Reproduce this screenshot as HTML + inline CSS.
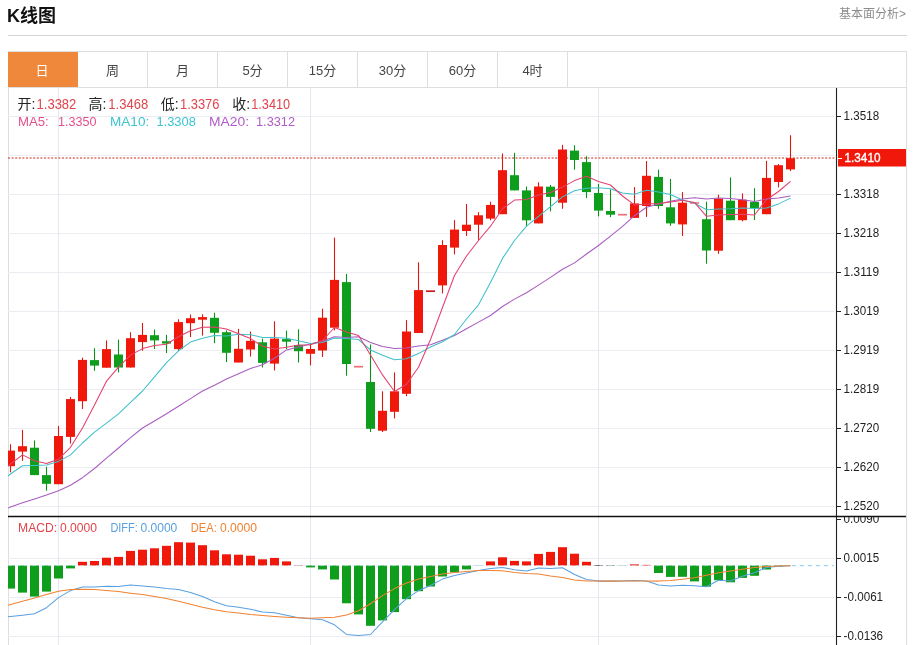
<!DOCTYPE html>
<html lang="zh-CN"><head><meta charset="utf-8"><title>K线图</title>
<style>
html,body{margin:0;padding:0;background:#fff;}
body{width:913px;height:645px;overflow:hidden;position:relative;font-family:"Liberation Sans","Noto Sans CJK SC",sans-serif;color:#222;}
.title{position:absolute;left:7px;top:3px;font-size:18px;font-weight:bold;line-height:26px;color:#111;white-space:nowrap;}
.more{position:absolute;right:7px;top:6px;font-size:12px;line-height:16px;color:#8c8c8c;white-space:nowrap;}
.hr{position:absolute;left:8px;top:35px;width:899px;height:1px;background:#d4d4d4;}
.tabs{position:absolute;left:8px;top:51px;width:897px;height:35px;border:1px solid #dedede;background:#fff;}
.tab{position:absolute;top:0;height:35px;width:69px;border-right:1px solid #dedede;text-align:center;font-size:13px;line-height:37px;color:#444;}
.tab.on{background:#f0883c;color:#fff;left:-1px;top:0;width:70px;border-right:none;}
.frame{position:absolute;left:8px;top:87px;width:897px;height:560px;border-left:1px solid #dedede;border-right:1px solid #dedede;}
svg{position:absolute;left:0;top:0;}
svg text{font-family:"Liberation Sans","Noto Sans CJK SC",sans-serif;}
</style></head><body>
<div class="title">K线图</div>
<div class="more">基本面分析&gt;</div>
<div class="hr"></div>
<div class="frame"></div>
<div class="tabs">
<div class="tab on"><span style="position:relative;left:-1px">日</span></div>
<div class="tab" style="left:69px">周</div>
<div class="tab" style="left:139px">月</div>
<div class="tab" style="left:209px">5分</div>
<div class="tab" style="left:279px">15分</div>
<div class="tab" style="left:349px">30分</div>
<div class="tab" style="left:419px">60分</div>
<div class="tab" style="left:489px">4时</div>
</div>
<svg width="913" height="645" viewBox="0 0 913 645">
<defs><clipPath id="cp"><rect x="8" y="88" width="828" height="557"/></clipPath>
<clipPath id="cm"><rect x="836" y="517" width="70" height="128"/></clipPath></defs>
<g clip-path="url(#cp)">
<line x1="8" x2="834" y1="116.5" y2="116.5" stroke="#ecedf3" stroke-width="1"/>
<line x1="8" x2="834" y1="155.5" y2="155.5" stroke="#ecedf3" stroke-width="1"/>
<line x1="8" x2="834" y1="194.5" y2="194.5" stroke="#ecedf3" stroke-width="1"/>
<line x1="8" x2="834" y1="233.5" y2="233.5" stroke="#ecedf3" stroke-width="1"/>
<line x1="8" x2="834" y1="272.5" y2="272.5" stroke="#ecedf3" stroke-width="1"/>
<line x1="8" x2="834" y1="311.5" y2="311.5" stroke="#ecedf3" stroke-width="1"/>
<line x1="8" x2="834" y1="350.5" y2="350.5" stroke="#ecedf3" stroke-width="1"/>
<line x1="8" x2="834" y1="389.5" y2="389.5" stroke="#ecedf3" stroke-width="1"/>
<line x1="8" x2="834" y1="428.5" y2="428.5" stroke="#ecedf3" stroke-width="1"/>
<line x1="8" x2="834" y1="467.5" y2="467.5" stroke="#ecedf3" stroke-width="1"/>
<line x1="8" x2="834" y1="506.5" y2="506.5" stroke="#ecedf3" stroke-width="1"/>
<line x1="8" x2="834" y1="558.5" y2="558.5" stroke="#ecedf3" stroke-width="1"/>
<line x1="8" x2="834" y1="597.5" y2="597.5" stroke="#ecedf3" stroke-width="1"/>
<line x1="8" x2="834" y1="636.5" y2="636.5" stroke="#ecedf3" stroke-width="1"/>
<line x1="58.5" x2="58.5" y1="88" y2="645" stroke="#e3e7f0" stroke-width="1"/>
<line x1="310.5" x2="310.5" y1="88" y2="645" stroke="#e3e7f0" stroke-width="1"/>
<line x1="598.5" x2="598.5" y1="88" y2="645" stroke="#e3e7f0" stroke-width="1"/>
<line x1="8" x2="835" y1="158" y2="158" stroke="#de6e64" stroke-width="1.6" stroke-dasharray="2 1.6"/>
<line x1="10.5" x2="10.5" y1="444.3" y2="472.3" stroke="#dc1810" stroke-width="1.1"/>
<rect x="6.0" y="450.6" width="9.0" height="15.6" fill="#f0180a"/>
<line x1="22.5" x2="22.5" y1="429.9" y2="460.8" stroke="#dc1810" stroke-width="1.1"/>
<rect x="18.0" y="446.2" width="9.0" height="5.4" fill="#f0180a"/>
<line x1="34.5" x2="34.5" y1="440.4" y2="475.1" stroke="#0c9018" stroke-width="1.1"/>
<rect x="30.0" y="447.7" width="9.0" height="27.4" fill="#0e9e1c"/>
<line x1="46.5" x2="46.5" y1="466.8" y2="490.7" stroke="#0c9018" stroke-width="1.1"/>
<rect x="42.0" y="475.1" width="9.0" height="8.7" fill="#0e9e1c"/>
<line x1="58.5" x2="58.5" y1="426.0" y2="484.2" stroke="#dc1810" stroke-width="1.1"/>
<rect x="54.0" y="436.0" width="9.0" height="48.2" fill="#f0180a"/>
<line x1="70.5" x2="70.5" y1="396.9" y2="443.6" stroke="#dc1810" stroke-width="1.1"/>
<rect x="66.0" y="399.1" width="9.0" height="37.8" fill="#f0180a"/>
<line x1="82.5" x2="82.5" y1="357.7" y2="409.0" stroke="#dc1810" stroke-width="1.1"/>
<rect x="78.0" y="359.9" width="9.0" height="41.3" fill="#f0180a"/>
<line x1="94.5" x2="94.5" y1="348.2" y2="370.8" stroke="#0c9018" stroke-width="1.1"/>
<rect x="90.0" y="360.1" width="9.0" height="5.5" fill="#0e9e1c"/>
<line x1="106.5" x2="106.5" y1="340.4" y2="367.7" stroke="#dc1810" stroke-width="1.1"/>
<rect x="102.0" y="349.1" width="9.0" height="18.6" fill="#f0180a"/>
<line x1="118.5" x2="118.5" y1="339.5" y2="372.5" stroke="#0c9018" stroke-width="1.1"/>
<rect x="114.0" y="354.5" width="9.0" height="13.0" fill="#0e9e1c"/>
<line x1="130.5" x2="130.5" y1="332.3" y2="367.5" stroke="#dc1810" stroke-width="1.1"/>
<rect x="126.0" y="338.2" width="9.0" height="29.3" fill="#f0180a"/>
<line x1="142.5" x2="142.5" y1="323.0" y2="350.8" stroke="#dc1810" stroke-width="1.1"/>
<rect x="138.0" y="334.9" width="9.0" height="7.2" fill="#f0180a"/>
<line x1="154.5" x2="154.5" y1="329.5" y2="349.1" stroke="#0c9018" stroke-width="1.1"/>
<rect x="150.0" y="335.2" width="9.0" height="5.2" fill="#0e9e1c"/>
<line x1="166.5" x2="166.5" y1="334.9" y2="353.0" stroke="#0c9018" stroke-width="1.1"/>
<rect x="162.0" y="341.2" width="9.0" height="2.4" fill="#0e9e1c"/>
<line x1="178.5" x2="178.5" y1="319.3" y2="351.2" stroke="#dc1810" stroke-width="1.1"/>
<rect x="174.0" y="322.1" width="9.0" height="27.0" fill="#f0180a"/>
<line x1="190.5" x2="190.5" y1="314.5" y2="337.1" stroke="#dc1810" stroke-width="1.1"/>
<rect x="186.0" y="318.2" width="9.0" height="5.0" fill="#f0180a"/>
<line x1="202.5" x2="202.5" y1="314.3" y2="335.6" stroke="#dc1810" stroke-width="1.1"/>
<rect x="198.0" y="317.1" width="9.0" height="2.6" fill="#f0180a"/>
<line x1="214.5" x2="214.5" y1="312.8" y2="343.2" stroke="#0c9018" stroke-width="1.1"/>
<rect x="210.0" y="317.8" width="9.0" height="15.0" fill="#0e9e1c"/>
<line x1="226.5" x2="226.5" y1="330.3" y2="362.1" stroke="#0c9018" stroke-width="1.1"/>
<rect x="222.0" y="332.2" width="9.0" height="20.6" fill="#0e9e1c"/>
<line x1="238.5" x2="238.5" y1="328.9" y2="362.5" stroke="#dc1810" stroke-width="1.1"/>
<rect x="234.0" y="348.8" width="9.0" height="13.7" fill="#f0180a"/>
<line x1="250.5" x2="250.5" y1="331.5" y2="356.6" stroke="#dc1810" stroke-width="1.1"/>
<rect x="246.0" y="340.8" width="9.0" height="8.7" fill="#f0180a"/>
<line x1="262.5" x2="262.5" y1="338.6" y2="367.5" stroke="#0c9018" stroke-width="1.1"/>
<rect x="258.0" y="342.3" width="9.0" height="20.6" fill="#0e9e1c"/>
<line x1="274.5" x2="274.5" y1="321.3" y2="370.5" stroke="#dc1810" stroke-width="1.1"/>
<rect x="270.0" y="338.6" width="9.0" height="25.0" fill="#f0180a"/>
<line x1="286.5" x2="286.5" y1="330.6" y2="349.0" stroke="#0c9018" stroke-width="1.1"/>
<rect x="282.0" y="339.1" width="9.0" height="2.6" fill="#0e9e1c"/>
<line x1="298.5" x2="298.5" y1="329.3" y2="362.5" stroke="#0c9018" stroke-width="1.1"/>
<rect x="294.0" y="345.1" width="9.0" height="6.1" fill="#0e9e1c"/>
<line x1="310.5" x2="310.5" y1="343.0" y2="365.3" stroke="#dc1810" stroke-width="1.1"/>
<rect x="306.0" y="349.0" width="9.0" height="4.8" fill="#f0180a"/>
<line x1="322.5" x2="322.5" y1="308.7" y2="357.0" stroke="#dc1810" stroke-width="1.1"/>
<rect x="318.0" y="317.7" width="9.0" height="32.8" fill="#f0180a"/>
<line x1="334.5" x2="334.5" y1="237.6" y2="330.3" stroke="#dc1810" stroke-width="1.1"/>
<rect x="330.0" y="279.9" width="9.0" height="47.8" fill="#f0180a"/>
<line x1="346.5" x2="346.5" y1="273.9" y2="375.7" stroke="#0c9018" stroke-width="1.1"/>
<rect x="342.0" y="282.1" width="9.0" height="81.9" fill="#0e9e1c"/>
<line x1="354.0" x2="363.0" y1="366.7" y2="366.7" stroke="#f07070" stroke-width="1.7"/>
<line x1="370.5" x2="370.5" y1="344.5" y2="432.0" stroke="#0c9018" stroke-width="1.1"/>
<rect x="366.0" y="382.0" width="9.0" height="46.8" fill="#0e9e1c"/>
<line x1="382.5" x2="382.5" y1="391.3" y2="432.0" stroke="#dc1810" stroke-width="1.1"/>
<rect x="378.0" y="410.8" width="9.0" height="19.9" fill="#f0180a"/>
<line x1="394.5" x2="394.5" y1="372.4" y2="418.4" stroke="#dc1810" stroke-width="1.1"/>
<rect x="390.0" y="391.3" width="9.0" height="20.5" fill="#f0180a"/>
<line x1="406.5" x2="406.5" y1="320.1" y2="396.2" stroke="#dc1810" stroke-width="1.1"/>
<rect x="402.0" y="331.5" width="9.0" height="62.3" fill="#f0180a"/>
<line x1="418.5" x2="418.5" y1="262.3" y2="333.0" stroke="#dc1810" stroke-width="1.1"/>
<rect x="414.0" y="290.1" width="9.0" height="42.9" fill="#f0180a"/>
<line x1="426.0" x2="435.0" y1="291.2" y2="291.2" stroke="#c81818" stroke-width="1.7"/>
<line x1="442.5" x2="442.5" y1="240.2" y2="293.4" stroke="#dc1810" stroke-width="1.1"/>
<rect x="438.0" y="245.0" width="9.0" height="40.4" fill="#f0180a"/>
<line x1="454.5" x2="454.5" y1="220.1" y2="254.4" stroke="#dc1810" stroke-width="1.1"/>
<rect x="450.0" y="229.6" width="9.0" height="18.0" fill="#f0180a"/>
<line x1="466.5" x2="466.5" y1="204.0" y2="236.0" stroke="#dc1810" stroke-width="1.1"/>
<rect x="462.0" y="224.7" width="9.0" height="6.3" fill="#f0180a"/>
<line x1="478.5" x2="478.5" y1="212.1" y2="239.9" stroke="#dc1810" stroke-width="1.1"/>
<rect x="474.0" y="215.3" width="9.0" height="9.4" fill="#f0180a"/>
<line x1="490.5" x2="490.5" y1="201.7" y2="220.3" stroke="#dc1810" stroke-width="1.1"/>
<rect x="486.0" y="204.9" width="9.0" height="13.7" fill="#f0180a"/>
<line x1="502.5" x2="502.5" y1="153.5" y2="214.2" stroke="#dc1810" stroke-width="1.1"/>
<rect x="498.0" y="170.2" width="9.0" height="44.0" fill="#f0180a"/>
<line x1="514.5" x2="514.5" y1="152.8" y2="190.4" stroke="#0c9018" stroke-width="1.1"/>
<rect x="510.0" y="175.2" width="9.0" height="15.2" fill="#0e9e1c"/>
<line x1="526.5" x2="526.5" y1="186.5" y2="226.6" stroke="#0c9018" stroke-width="1.1"/>
<rect x="522.0" y="190.4" width="9.0" height="29.9" fill="#0e9e1c"/>
<line x1="538.5" x2="538.5" y1="182.3" y2="223.4" stroke="#dc1810" stroke-width="1.1"/>
<rect x="534.0" y="186.5" width="9.0" height="36.9" fill="#f0180a"/>
<line x1="550.5" x2="550.5" y1="184.9" y2="211.4" stroke="#0c9018" stroke-width="1.1"/>
<rect x="546.0" y="186.7" width="9.0" height="10.2" fill="#0e9e1c"/>
<line x1="562.5" x2="562.5" y1="144.8" y2="208.8" stroke="#dc1810" stroke-width="1.1"/>
<rect x="558.0" y="149.5" width="9.0" height="53.2" fill="#f0180a"/>
<line x1="574.5" x2="574.5" y1="145.2" y2="169.7" stroke="#0c9018" stroke-width="1.1"/>
<rect x="570.0" y="150.6" width="9.0" height="9.4" fill="#0e9e1c"/>
<line x1="586.5" x2="586.5" y1="156.3" y2="198.0" stroke="#0c9018" stroke-width="1.1"/>
<rect x="582.0" y="162.1" width="9.0" height="30.0" fill="#0e9e1c"/>
<line x1="598.5" x2="598.5" y1="183.8" y2="216.4" stroke="#0c9018" stroke-width="1.1"/>
<rect x="594.0" y="193.0" width="9.0" height="17.6" fill="#0e9e1c"/>
<line x1="610.5" x2="610.5" y1="189.3" y2="217.1" stroke="#0c9018" stroke-width="1.1"/>
<rect x="606.0" y="211.0" width="9.0" height="3.7" fill="#0e9e1c"/>
<line x1="618.0" x2="627.0" y1="214.7" y2="214.7" stroke="#f07080" stroke-width="1.7"/>
<line x1="634.5" x2="634.5" y1="187.1" y2="217.9" stroke="#dc1810" stroke-width="1.1"/>
<rect x="630.0" y="203.4" width="9.0" height="14.5" fill="#f0180a"/>
<line x1="646.5" x2="646.5" y1="161.1" y2="216.9" stroke="#dc1810" stroke-width="1.1"/>
<rect x="642.0" y="175.8" width="9.0" height="30.2" fill="#f0180a"/>
<line x1="658.5" x2="658.5" y1="169.7" y2="208.8" stroke="#0c9018" stroke-width="1.1"/>
<rect x="654.0" y="176.9" width="9.0" height="29.1" fill="#0e9e1c"/>
<line x1="670.5" x2="670.5" y1="178.9" y2="225.8" stroke="#0c9018" stroke-width="1.1"/>
<rect x="666.0" y="207.3" width="9.0" height="16.1" fill="#0e9e1c"/>
<line x1="682.5" x2="682.5" y1="192.1" y2="236.0" stroke="#dc1810" stroke-width="1.1"/>
<rect x="678.0" y="202.7" width="9.0" height="21.7" fill="#f0180a"/>
<line x1="690.0" x2="699.0" y1="203" y2="203" stroke="#f07080" stroke-width="1.7"/>
<line x1="706.5" x2="706.5" y1="201.7" y2="263.7" stroke="#0c9018" stroke-width="1.1"/>
<rect x="702.0" y="219.2" width="9.0" height="31.3" fill="#0e9e1c"/>
<line x1="718.5" x2="718.5" y1="194.7" y2="253.8" stroke="#dc1810" stroke-width="1.1"/>
<rect x="714.0" y="198.6" width="9.0" height="52.1" fill="#f0180a"/>
<line x1="730.5" x2="730.5" y1="177.4" y2="220.2" stroke="#0c9018" stroke-width="1.1"/>
<rect x="726.0" y="200.7" width="9.0" height="19.5" fill="#0e9e1c"/>
<line x1="742.5" x2="742.5" y1="193.4" y2="221.3" stroke="#dc1810" stroke-width="1.1"/>
<rect x="738.0" y="199.7" width="9.0" height="20.5" fill="#f0180a"/>
<line x1="754.5" x2="754.5" y1="188.2" y2="220.0" stroke="#0c9018" stroke-width="1.1"/>
<rect x="750.0" y="201.9" width="9.0" height="6.1" fill="#0e9e1c"/>
<line x1="766.5" x2="766.5" y1="160.8" y2="214.2" stroke="#dc1810" stroke-width="1.1"/>
<rect x="762.0" y="177.9" width="9.0" height="36.3" fill="#f0180a"/>
<line x1="778.5" x2="778.5" y1="164.1" y2="187.4" stroke="#dc1810" stroke-width="1.1"/>
<rect x="774.0" y="165.2" width="9.0" height="16.8" fill="#f0180a"/>
<line x1="790.5" x2="790.5" y1="135.2" y2="171.0" stroke="#dc1810" stroke-width="1.1"/>
<rect x="786.0" y="158.2" width="9.0" height="11.2" fill="#f0180a"/>
<polyline fill="none" stroke="#a85cc0" stroke-width="1.05" stroke-linejoin="round" points="8.0,508.1 10.5,507.1 22.5,502.7 34.5,498.9 46.5,495.1 58.5,490.7 70.5,485.3 82.5,477.7 94.5,468.5 106.5,458.2 118.5,448.0 130.5,437.7 142.5,428.0 154.5,421.0 166.5,413.8 178.5,406.2 190.5,398.6 202.5,391.0 214.5,385.2 226.5,379.0 238.5,373.8 250.5,368.6 262.5,364.7 274.5,358.2 286.5,349.9 298.5,346.9 310.5,344.0 322.5,341.0 334.5,336.8 346.5,337.5 358.5,336.7 370.5,342.5 382.5,346.5 394.5,348.5 406.5,348.1 418.5,346.1 430.5,344.7 442.5,340.2 454.5,335.5 466.5,328.8 478.5,322.1 490.5,315.5 502.5,306.5 514.5,299.1 526.5,292.8 538.5,285.1 550.5,277.4 562.5,269.2 574.5,262.9 586.5,254.0 598.5,245.5 610.5,236.1 622.5,226.3 634.5,215.7 646.5,207.2 658.5,203.9 670.5,201.2 682.5,199.0 694.5,197.7 706.5,198.9 718.5,198.1 730.5,198.6 742.5,199.7 754.5,201.4 766.5,198.9 778.5,198.1 790.5,196.1"/>
<polyline fill="none" stroke="#40c0cc" stroke-width="1.05" stroke-linejoin="round" points="8.0,476.0 10.5,474.0 22.5,465.8 34.5,465.5 46.5,465.1 58.5,461.4 70.5,454.9 82.5,443.0 94.5,432.1 106.5,423.2 118.5,413.8 130.5,402.4 142.5,391.0 154.5,376.8 166.5,362.7 178.5,350.8 190.5,342.1 202.5,338.2 214.5,335.6 226.5,336.1 238.5,334.3 250.5,334.7 262.5,337.5 274.5,337.5 286.5,338.2 298.5,340.8 310.5,343.4 322.5,342.6 334.5,338.0 346.5,338.5 358.5,339.5 370.5,350.0 382.5,355.2 394.5,359.7 406.5,358.7 418.5,353.6 430.5,347.0 442.5,341.8 454.5,334.5 466.5,319.0 478.5,304.8 490.5,282.6 502.5,258.4 514.5,240.5 526.5,226.2 538.5,216.4 550.5,206.6 562.5,196.9 574.5,190.8 586.5,188.2 598.5,187.8 610.5,188.7 622.5,192.9 634.5,194.2 646.5,190.3 658.5,192.0 670.5,194.6 682.5,199.9 694.5,203.2 706.5,209.7 718.5,209.1 730.5,208.8 742.5,208.0 754.5,208.5 766.5,208.0 778.5,203.9 790.5,198.1"/>
<polyline fill="none" stroke="#e4406e" stroke-width="1.05" stroke-linejoin="round" points="8.0,465.8 10.5,464.0 22.5,454.9 34.5,460.8 46.5,463.6 58.5,459.2 70.5,447.3 82.5,428.0 94.5,405.1 106.5,381.2 118.5,367.1 130.5,355.1 142.5,348.6 154.5,345.4 166.5,344.3 178.5,336.7 190.5,330.8 202.5,327.3 214.5,326.9 226.5,329.0 238.5,333.8 250.5,338.6 262.5,346.2 274.5,349.0 286.5,347.3 298.5,345.1 310.5,344.7 322.5,340.5 334.5,327.5 346.5,332.0 358.5,335.5 370.5,355.0 382.5,374.9 394.5,391.5 406.5,384.3 418.5,367.3 430.5,339.5 442.5,307.5 454.5,275.5 466.5,256.0 478.5,240.5 490.5,226.2 502.5,208.8 514.5,200.1 526.5,199.5 538.5,195.1 550.5,192.5 562.5,187.1 574.5,180.6 586.5,176.3 598.5,181.4 610.5,185.0 622.5,196.0 634.5,204.9 646.5,203.9 658.5,203.5 670.5,201.9 682.5,200.2 694.5,202.4 706.5,216.3 718.5,215.0 730.5,214.5 742.5,214.2 754.5,215.0 766.5,199.7 778.5,191.5 790.5,181.4"/>
<rect x="6.0" y="565.5" width="9.0" height="23.1" fill="#0e9e1c"/>
<rect x="18.0" y="565.5" width="9.0" height="27.1" fill="#0e9e1c"/>
<rect x="30.0" y="565.5" width="9.0" height="31.1" fill="#0e9e1c"/>
<rect x="42.0" y="565.5" width="9.0" height="26.1" fill="#0e9e1c"/>
<rect x="54.0" y="565.5" width="9.0" height="13.0" fill="#0e9e1c"/>
<rect x="66.0" y="565.5" width="9.0" height="2.9" fill="#0e9e1c"/>
<rect x="78.0" y="561.8" width="9.0" height="3.7" fill="#f0180a"/>
<rect x="90.0" y="561.0" width="9.0" height="4.5" fill="#f0180a"/>
<rect x="102.0" y="557.7" width="9.0" height="7.8" fill="#f0180a"/>
<rect x="114.0" y="556.9" width="9.0" height="8.6" fill="#f0180a"/>
<rect x="126.0" y="550.9" width="9.0" height="14.6" fill="#f0180a"/>
<rect x="138.0" y="549.7" width="9.0" height="15.8" fill="#f0180a"/>
<rect x="150.0" y="548.3" width="9.0" height="17.2" fill="#f0180a"/>
<rect x="162.0" y="545.8" width="9.0" height="19.7" fill="#f0180a"/>
<rect x="174.0" y="542.2" width="9.0" height="23.3" fill="#f0180a"/>
<rect x="186.0" y="542.6" width="9.0" height="22.9" fill="#f0180a"/>
<rect x="198.0" y="545.2" width="9.0" height="20.3" fill="#f0180a"/>
<rect x="210.0" y="550.3" width="9.0" height="15.2" fill="#f0180a"/>
<rect x="222.0" y="554.3" width="9.0" height="11.2" fill="#f0180a"/>
<rect x="234.0" y="554.7" width="9.0" height="10.8" fill="#f0180a"/>
<rect x="246.0" y="555.7" width="9.0" height="9.8" fill="#f0180a"/>
<rect x="258.0" y="559.3" width="9.0" height="6.2" fill="#f0180a"/>
<rect x="270.0" y="557.9" width="9.0" height="7.6" fill="#f0180a"/>
<rect x="282.0" y="561.4" width="9.0" height="4.1" fill="#f0180a"/>
<rect x="294.0" y="565.0" width="9.0" height="0.9" fill="#e8a0a8"/>
<rect x="306.0" y="565.5" width="9.0" height="1.9" fill="#0e9e1c"/>
<rect x="318.0" y="565.5" width="9.0" height="3.9" fill="#0e9e1c"/>
<rect x="330.0" y="565.5" width="9.0" height="14.0" fill="#0e9e1c"/>
<rect x="342.0" y="565.5" width="9.0" height="37.8" fill="#0e9e1c"/>
<rect x="354.0" y="565.5" width="9.0" height="48.9" fill="#0e9e1c"/>
<rect x="366.0" y="565.5" width="9.0" height="60.3" fill="#0e9e1c"/>
<rect x="378.0" y="565.5" width="9.0" height="54.9" fill="#0e9e1c"/>
<rect x="390.0" y="565.5" width="9.0" height="46.6" fill="#0e9e1c"/>
<rect x="402.0" y="565.5" width="9.0" height="33.7" fill="#0e9e1c"/>
<rect x="414.0" y="565.5" width="9.0" height="25.7" fill="#0e9e1c"/>
<rect x="426.0" y="565.5" width="9.0" height="21.0" fill="#0e9e1c"/>
<rect x="438.0" y="565.5" width="9.0" height="11.0" fill="#0e9e1c"/>
<rect x="450.0" y="565.5" width="9.0" height="6.9" fill="#0e9e1c"/>
<rect x="462.0" y="565.5" width="9.0" height="3.9" fill="#0e9e1c"/>
<rect x="474.0" y="565.0" width="9.0" height="0.9" fill="#c8dce8"/>
<rect x="486.0" y="561.4" width="9.0" height="4.1" fill="#f0180a"/>
<rect x="498.0" y="557.3" width="9.0" height="8.2" fill="#f0180a"/>
<rect x="510.0" y="560.9" width="9.0" height="4.6" fill="#f0180a"/>
<rect x="522.0" y="561.4" width="9.0" height="4.1" fill="#f0180a"/>
<rect x="534.0" y="553.9" width="9.0" height="11.6" fill="#f0180a"/>
<rect x="546.0" y="551.9" width="9.0" height="13.6" fill="#f0180a"/>
<rect x="558.0" y="547.2" width="9.0" height="18.3" fill="#f0180a"/>
<rect x="570.0" y="553.7" width="9.0" height="11.8" fill="#f0180a"/>
<rect x="582.0" y="561.8" width="9.0" height="3.7" fill="#f0180a"/>
<rect x="594.0" y="565.0" width="9.0" height="0.9" fill="#806060"/>
<rect x="606.0" y="565.0" width="9.0" height="0.9" fill="#9ab09a"/>
<rect x="618.0" y="565.0" width="9.0" height="0.9" fill="#d0d8d0"/>
<rect x="630.0" y="564.4" width="9.0" height="1.1" fill="#f0180a"/>
<rect x="642.0" y="564.9" width="9.0" height="0.6" fill="#f0180a"/>
<rect x="654.0" y="565.5" width="9.0" height="7.5" fill="#0e9e1c"/>
<rect x="666.0" y="565.5" width="9.0" height="11.4" fill="#0e9e1c"/>
<rect x="678.0" y="565.5" width="9.0" height="11.3" fill="#0e9e1c"/>
<rect x="690.0" y="565.5" width="9.0" height="15.9" fill="#0e9e1c"/>
<rect x="702.0" y="565.5" width="9.0" height="21.2" fill="#0e9e1c"/>
<rect x="714.0" y="565.5" width="9.0" height="14.7" fill="#0e9e1c"/>
<rect x="726.0" y="565.5" width="9.0" height="16.8" fill="#0e9e1c"/>
<rect x="738.0" y="565.5" width="9.0" height="12.4" fill="#0e9e1c"/>
<rect x="750.0" y="565.5" width="9.0" height="10.3" fill="#0e9e1c"/>
<rect x="762.0" y="565.5" width="9.0" height="4.0" fill="#0e9e1c"/>
<rect x="774.0" y="565.5" width="9.0" height="1.0" fill="#0e9e1c"/>
<line x1="8" x2="790" y1="565.6" y2="565.6" stroke="#bfe3f5" stroke-width="1" stroke-dasharray="4 4" opacity="0.55"/>
<polyline fill="none" stroke="#5aa0e0" stroke-width="1.05" stroke-linejoin="round" points="8.0,616.8 10.5,616.5 22.5,615.2 34.5,613.8 46.5,607.7 58.5,597.6 70.5,590.6 82.5,587.1 94.5,586.9 106.5,586.3 118.5,586.5 130.5,584.9 142.5,585.9 154.5,587.1 166.5,588.6 178.5,589.6 190.5,592.6 202.5,596.6 214.5,601.7 226.5,605.7 238.5,607.3 250.5,609.3 262.5,612.1 274.5,612.7 286.5,615.2 298.5,617.8 310.5,618.8 322.5,619.8 334.5,624.8 346.5,634.4 358.5,635.5 370.5,634.5 382.5,621.8 394.5,609.7 406.5,598.6 418.5,590.6 430.5,585.5 442.5,579.1 454.5,575.5 466.5,573.0 478.5,570.4 490.5,568.4 502.5,567.4 514.5,569.8 526.5,571.0 538.5,568.0 550.5,568.4 562.5,567.8 574.5,574.5 586.5,579.5 598.5,581.1 610.5,581.1 622.5,580.9 634.5,580.5 646.5,581.1 658.5,585.1 670.5,586.1 682.5,585.3 694.5,585.7 706.5,586.7 718.5,580.2 730.5,580.9 742.5,576.2 754.5,572.7 766.5,567.4 778.5,566.2 790.5,565.7"/>
<polyline fill="none" stroke="#f08232" stroke-width="1.05" stroke-linejoin="round" points="8.0,605.3 10.5,604.5 22.5,601.3 34.5,598.0 46.5,594.6 58.5,591.2 70.5,589.6 82.5,589.2 94.5,589.6 106.5,590.6 118.5,591.6 130.5,593.2 142.5,594.6 154.5,596.6 166.5,598.6 178.5,601.3 190.5,604.3 202.5,607.3 214.5,609.7 226.5,611.7 238.5,613.1 250.5,614.4 262.5,615.4 274.5,616.4 286.5,617.2 298.5,617.8 310.5,618.2 322.5,617.8 334.5,617.2 346.5,615.0 358.5,610.7 370.5,603.7 382.5,595.6 394.5,588.6 406.5,583.1 418.5,579.1 430.5,576.5 442.5,574.0 454.5,572.4 466.5,571.4 478.5,570.4 490.5,570.4 502.5,570.8 514.5,572.4 526.5,573.4 538.5,574.0 550.5,575.9 562.5,577.5 574.5,579.9 586.5,580.9 598.5,581.1 610.5,581.1 622.5,580.9 634.5,580.9 646.5,581.1 658.5,581.1 670.5,580.5 682.5,579.2 694.5,577.8 706.5,575.3 718.5,572.7 730.5,570.9 742.5,569.2 754.5,567.4 766.5,566.5 778.5,566.0 790.5,565.7"/>
<line x1="792" x2="834" y1="565.7" y2="565.7" stroke="#9fd4ee" stroke-width="1.2" stroke-dasharray="4 4"/>
</g>
<line x1="836.5" x2="836.5" y1="88" y2="645" stroke="#222" stroke-width="1.1"/>
<line x1="8" x2="906" y1="516.5" y2="516.5" stroke="#111" stroke-width="1.4"/>
<g font-size="12" fill="#222">
<line x1="836" x2="841" y1="116.5" y2="116.5" stroke="#222" stroke-width="1"/>
<text x="843.6" y="120.3" textLength="35.5" lengthAdjust="spacingAndGlyphs">1.3518</text>
<line x1="836" x2="841" y1="194.5" y2="194.5" stroke="#222" stroke-width="1"/>
<text x="843.6" y="198.3" textLength="35.5" lengthAdjust="spacingAndGlyphs">1.3318</text>
<line x1="836" x2="841" y1="233.5" y2="233.5" stroke="#222" stroke-width="1"/>
<text x="843.6" y="237.3" textLength="35.5" lengthAdjust="spacingAndGlyphs">1.3218</text>
<line x1="836" x2="841" y1="272.5" y2="272.5" stroke="#222" stroke-width="1"/>
<text x="843.6" y="276.3" textLength="35.5" lengthAdjust="spacingAndGlyphs">1.3119</text>
<line x1="836" x2="841" y1="311.5" y2="311.5" stroke="#222" stroke-width="1"/>
<text x="843.6" y="315.3" textLength="35.5" lengthAdjust="spacingAndGlyphs">1.3019</text>
<line x1="836" x2="841" y1="350.5" y2="350.5" stroke="#222" stroke-width="1"/>
<text x="843.6" y="354.3" textLength="35.5" lengthAdjust="spacingAndGlyphs">1.2919</text>
<line x1="836" x2="841" y1="389.5" y2="389.5" stroke="#222" stroke-width="1"/>
<text x="843.6" y="393.3" textLength="35.5" lengthAdjust="spacingAndGlyphs">1.2819</text>
<line x1="836" x2="841" y1="428.5" y2="428.5" stroke="#222" stroke-width="1"/>
<text x="843.6" y="432.3" textLength="35.5" lengthAdjust="spacingAndGlyphs">1.2720</text>
<line x1="836" x2="841" y1="467.5" y2="467.5" stroke="#222" stroke-width="1"/>
<text x="843.6" y="471.3" textLength="35.5" lengthAdjust="spacingAndGlyphs">1.2620</text>
<line x1="836" x2="841" y1="506.5" y2="506.5" stroke="#222" stroke-width="1"/>
<text x="843.6" y="510.3" textLength="35.5" lengthAdjust="spacingAndGlyphs">1.2520</text>
<line x1="836" x2="841" y1="519.5" y2="519.5" stroke="#222" stroke-width="1"/>
<text clip-path="url(#cm)" x="843.6" y="523.3" textLength="35.5" lengthAdjust="spacingAndGlyphs">0.0090</text>
<line x1="836" x2="841" y1="558.5" y2="558.5" stroke="#222" stroke-width="1"/>
<text x="843.6" y="562.3" textLength="35.5" lengthAdjust="spacingAndGlyphs">0.0015</text>
<line x1="836" x2="841" y1="597.5" y2="597.5" stroke="#222" stroke-width="1"/>
<text x="843.6" y="601.3" textLength="39.5" lengthAdjust="spacingAndGlyphs">-0.0061</text>
<line x1="836" x2="841" y1="636.5" y2="636.5" stroke="#222" stroke-width="1"/>
<text x="843.6" y="640.3" textLength="39.5" lengthAdjust="spacingAndGlyphs">-0.0136</text>
</g>
<rect x="838" y="149" width="68" height="17.5" fill="#f0180a"/>
<line x1="837" x2="842" y1="158.5" y2="158.5" stroke="#fff" stroke-width="1"/>
<text x="844.5" y="162.4" font-size="12" fill="#fff" stroke="#fff" stroke-width="0.35" textLength="36" lengthAdjust="spacingAndGlyphs">1.3410</text>
<g font-size="14">
<text x="17.6" y="108.8" fill="#222">开:</text><text x="88.5" y="108.8" fill="#222">高:</text><text x="160.8" y="108.8" fill="#222">低:</text><text x="232.3" y="108.8" fill="#222">收:</text>
</g>
<g font-size="14.3" fill="#e0444c">
<text x="36.6" y="109" textLength="39.7" lengthAdjust="spacingAndGlyphs">1.3382</text>
<text x="108.3" y="109" textLength="39.9" lengthAdjust="spacingAndGlyphs">1.3468</text>
<text x="180" y="109" textLength="39.4" lengthAdjust="spacingAndGlyphs">1.3376</text>
<text x="251.2" y="109" textLength="39" lengthAdjust="spacingAndGlyphs">1.3410</text>
</g>
<g font-size="13.3">
<text x="18" y="126.4" fill="#e4508a" textLength="30.8" lengthAdjust="spacingAndGlyphs">MA5:</text>
<text x="58" y="126.4" fill="#e4508a" textLength="38.5" lengthAdjust="spacingAndGlyphs">1.3350</text>
<text x="110" y="126.4" fill="#3cc4d0" textLength="39.2" lengthAdjust="spacingAndGlyphs">MA10:</text>
<text x="156.4" y="126.4" fill="#3cc4d0" textLength="39.5" lengthAdjust="spacingAndGlyphs">1.3308</text>
<text x="209" y="126.4" fill="#b05cc8" textLength="40" lengthAdjust="spacingAndGlyphs">MA20:</text>
<text x="256" y="126.4" fill="#b05cc8" textLength="39" lengthAdjust="spacingAndGlyphs">1.3312</text>
</g>
<g font-size="13">
<text x="18.1" y="532.2" fill="#e0444c" textLength="39" lengthAdjust="spacingAndGlyphs">MACD:</text>
<text x="60" y="532.2" fill="#e0444c" textLength="37.1" lengthAdjust="spacingAndGlyphs">0.0000</text>
<text x="110.4" y="532.2" fill="#5aa0e0" textLength="27.3" lengthAdjust="spacingAndGlyphs">DIFF:</text>
<text x="140.5" y="532.2" fill="#5aa0e0" textLength="36.8" lengthAdjust="spacingAndGlyphs">0.0000</text>
<text x="190.8" y="532.2" fill="#f08232" textLength="26" lengthAdjust="spacingAndGlyphs">DEA:</text>
<text x="220" y="532.2" fill="#f08232" textLength="37.1" lengthAdjust="spacingAndGlyphs">0.0000</text>
</g>
</svg>
</body></html>
